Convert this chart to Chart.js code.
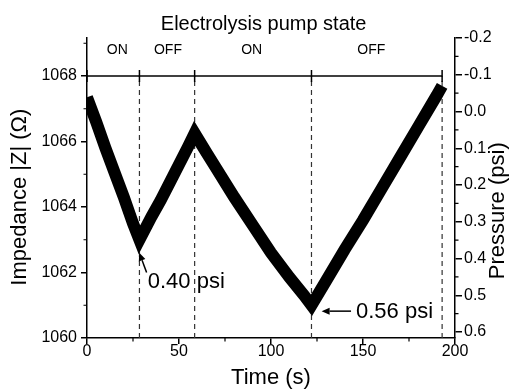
<!DOCTYPE html>
<html><head><meta charset="utf-8">
<script src="https://cdn.jsdelivr.net/npm/chart.js@4.4.0/dist/chart.umd.min.js"></script>
<style>html,body{margin:0;padding:0;background:#fff}canvas{display:block}</style>
</head><body>
<canvas id="c" width="518" height="389"></canvas>
<script>
// ---- data ----
const timeS      = [0, 5, 10, 15, 20, 25, 28.5, 35, 40, 45, 50, 55, 58.5, 65, 70, 80, 90, 100, 110, 118, 122, 130, 140, 150, 160, 170, 180, 190, 193];
const impedance  = [1067.35, 1066.6, 1065.8, 1065.05, 1064.3, 1063.5, 1063.0, 1063.7, 1064.2, 1064.75, 1065.3, 1065.85, 1066.25, 1065.65, 1065.2, 1064.3, 1063.45, 1062.6, 1061.85, 1061.3, 1061.0, 1061.75, 1062.7, 1063.6, 1064.55, 1065.5, 1066.45, 1067.4, 1067.7];
const stateTimes  = [0, 28.5, 58.5, 122, 193];
const stateLabels = ['ON', 'OFF', 'ON', 'OFF'];
const stateLevel  = 1068;
const timeTicks      = [0, 50, 100, 150, 200];
const timeMinor      = [25, 75, 125, 175];
const impedanceTicks = [1060, 1062, 1064, 1066, 1068];
const impedanceMinor = [1061, 1063, 1065, 1067, 1069];
const pressureTicks  = [-0.2, -0.1, 0.0, 0.1, 0.2, 0.3, 0.4, 0.5, 0.6];
const pressureMinor  = [-0.15, -0.05, 0.05, 0.15, 0.25, 0.35, 0.45, 0.55];
const noteTexts = ['0.40 psi', '0.56 psi'];

const FONT = '"Liberation Sans", Arial, sans-serif';

const datasets = [];
datasets.push({
  data: timeS.map((t, i) => ({x: t, y: impedance[i]})),
  borderColor: '#000', borderWidth: 12, pointRadius: 0, tension: 0,
  borderJoinStyle: 'miter', borderCapStyle: 'butt', yAxisID: 'y', order: 0
});
stateTimes.slice(1).forEach(t => datasets.push({
  data: [{x: t, y: 1060}, {x: t, y: stateLevel}],
  borderColor: '#333', borderWidth: 1.2, borderDash: [5, 4], pointRadius: 0, yAxisID: 'y', order: 2
}));
datasets.push({
  data: [{x: stateTimes[0], y: stateLevel}, {x: stateTimes[stateTimes.length - 1], y: stateLevel}],
  borderColor: '#000', borderWidth: 1.5, pointRadius: 0, yAxisID: 'y', order: 1
});
datasets.push({
  type: 'scatter',
  data: stateTimes.map(t => ({x: t, y: stateLevel})),
  pointStyle: 'line', rotation: 90, radius: 6, borderColor: '#000', borderWidth: 1.5,
  yAxisID: 'y', order: 1
});

const overlay = {
  id: 'overlay',
  afterDraw(chart) {
    const {ctx} = chart;
    const x = chart.scales.x, y = chart.scales.y, y2 = chart.scales.y2;
    // annotation placement (in data units)
    const labelAt = [16.5, 44, 89.5, 154.5];
    const notes = [
      {tip: [28.4, 1062.6], tail: [32.4, 1062.0], at: [33, 1061.71]},
      {tip: [127.5, 1060.82], tail: [143.5, 1060.82], at: [146.2, 1060.80]}
    ];
    ctx.save();
    ctx.fillStyle = '#000';
    ctx.strokeStyle = '#000';
    // title
    ctx.font = '20px ' + FONT;
    ctx.textAlign = 'center'; ctx.textBaseline = 'middle';
    ctx.fillText('Electrolysis pump state', x.getPixelForValue(96), y.getPixelForValue(1069.56));
    // state labels
    ctx.font = '14px ' + FONT;
    stateLabels.forEach((s, i) => {
      ctx.fillText(s, x.getPixelForValue(labelAt[i]), y.getPixelForValue(1068.79));
    });
    // axis titles (both read bottom-to-top)
    ctx.font = '22px ' + FONT;
    [[y.left + 20, y.getPixelForValue(1064.3), 'Impedance |Z| (\u03A9)'],
     [y2.right - 20, y2.getPixelForValue(0.27), 'Pressure (psi)']].forEach(([tx, ty, s]) => {
      ctx.save(); ctx.translate(tx, ty); ctx.rotate(-Math.PI / 2);
      ctx.fillText(s, 0, 0); ctx.restore();
    });
    // notes with arrows
    ctx.textAlign = 'left';
    notes.forEach((n, i) => {
      const x1 = x.getPixelForValue(n.tail[0]), y1 = y.getPixelForValue(n.tail[1]);
      const x2 = x.getPixelForValue(n.tip[0]), y2p = y.getPixelForValue(n.tip[1]);
      const ang = Math.atan2(y2p - y1, x2 - x1);
      const L = 8, W = 3.5;
      const bx = x2 - L * Math.cos(ang), by = y2p - L * Math.sin(ang);
      ctx.lineWidth = 1.5;
      ctx.beginPath(); ctx.moveTo(x1, y1); ctx.lineTo(bx, by); ctx.stroke();
      ctx.beginPath();
      ctx.moveTo(x2, y2p);
      ctx.lineTo(bx + W * Math.sin(ang), by - W * Math.cos(ang));
      ctx.lineTo(bx - W * Math.sin(ang), by + W * Math.cos(ang));
      ctx.closePath(); ctx.fill();
      ctx.fillText(noteTexts[i], x.getPixelForValue(n.at[0]), y.getPixelForValue(n.at[1]));
    });
    // minor ticks (outward)
    ctx.lineWidth = 1.2;
    ctx.beginPath();
    timeMinor.forEach(v => { const p = x.getPixelForValue(v); ctx.moveTo(p, x.top); ctx.lineTo(p, x.top + 3.5); });
    impedanceMinor.forEach(v => { const p = y.getPixelForValue(v); ctx.moveTo(y.right, p); ctx.lineTo(y.right - 3.5, p); });
    pressureMinor.forEach(v => { const p = y2.getPixelForValue(v); ctx.moveTo(y2.left, p); ctx.lineTo(y2.left + 3.5, p); });
    ctx.stroke();
    ctx.restore();
  }
};

const tickFont = {family: FONT, size: 16};
const titleFont = {family: FONT, size: 22, lineHeight: 1};

new Chart(document.getElementById('c'), {
  type: 'line',
  data: {datasets},
  options: {
    responsive: false, animation: false, devicePixelRatio: 1,
    layout: {padding: {top: 38, left: 0, right: 0, bottom: 0}},
    plugins: {legend: {display: false}, tooltip: {enabled: false}},
    scales: {
      x: {
        type: 'linear', min: 0, max: 200,
        afterBuildTicks: s => { s.ticks = timeTicks.map(v => ({value: v})); },
        afterFit: s => { s.height = 51; },
        grid: {drawOnChartArea: false, color: '#000', lineWidth: 1.5, tickLength: 6},
        border: {color: '#000', width: 1.5},
        ticks: {font: tickFont, color: '#000', padding: -2, maxRotation: 0, autoSkip: false, callback: v => String(v)},
        title: {display: true, text: 'Time (s)', font: titleFont, color: '#000', padding: {top: 0, bottom: 0.5}}
      },
      y: {
        position: 'left', min: 1060, max: 1069.16,
        afterBuildTicks: s => { s.ticks = impedanceTicks.map(v => ({value: v})); },
        afterFit: s => { s.width = 87; },
        grid: {drawOnChartArea: false, color: '#000', lineWidth: 1.5, tickLength: 6},
        border: {color: '#000', width: 1.5},
        ticks: {font: tickFont, color: '#000', padding: 4, autoSkip: false, callback: v => String(v)},
        title: {display: false}
      },
      y2: {
        position: 'right', min: -0.2, max: 0.6163, reverse: true,
        afterBuildTicks: s => { s.ticks = pressureTicks.map(v => ({value: v})); },
        afterFit: s => { s.width = 63; },
        grid: {drawOnChartArea: false, color: '#000', lineWidth: 1.5, tickLength: 7},
        border: {color: '#000', width: 1.5},
        ticks: {font: tickFont, color: '#000', padding: 2, autoSkip: false, callback: v => v.toFixed(1)},
        title: {display: false}
      }
    }
  },
  plugins: [overlay]
});
</script>
</body></html>
